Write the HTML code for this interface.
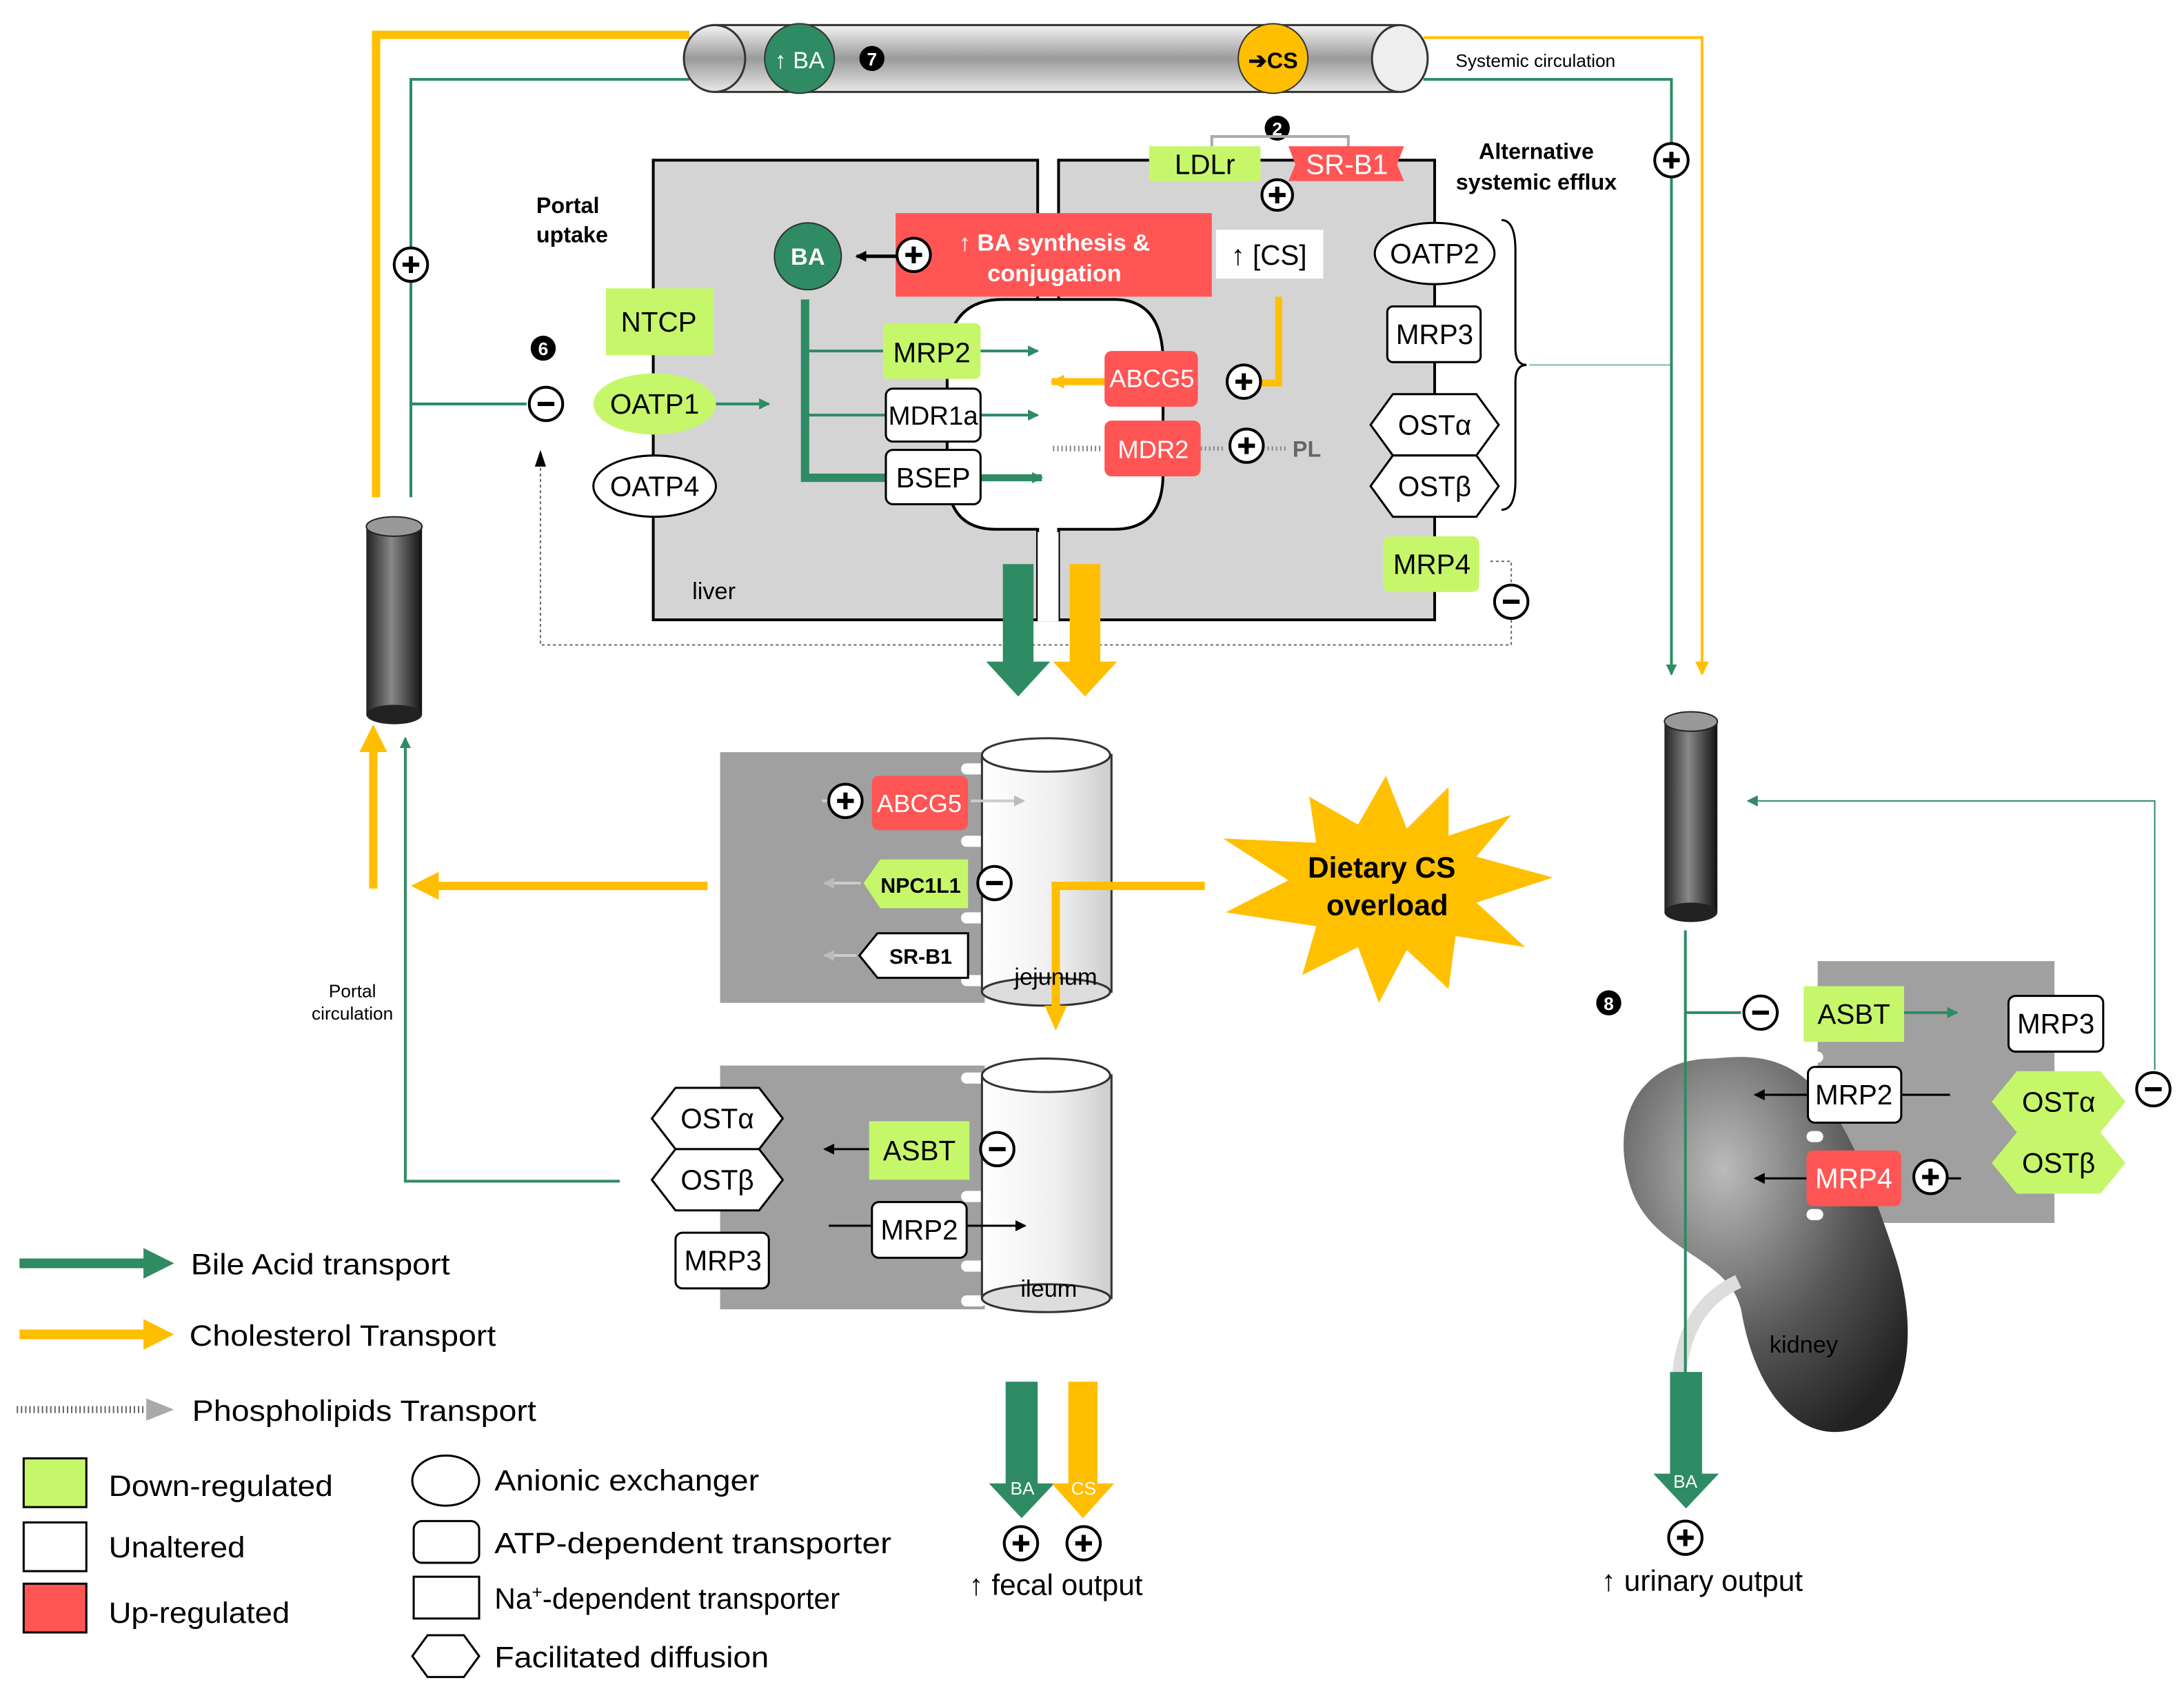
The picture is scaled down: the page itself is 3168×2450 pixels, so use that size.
<!DOCTYPE html>
<html><head><meta charset="utf-8"><style>
html,body{margin:0;padding:0;background:#fff}
svg{display:block}
text{font-family:"Liberation Sans",sans-serif}
</style></head><body>
<svg width="3168" height="2450" viewBox="0 0 1568 1212.6" preserveAspectRatio="none" xmlns="http://www.w3.org/2000/svg">
<defs>
<linearGradient id="tube" x1="0" y1="0" x2="0" y2="1"><stop offset="0" stop-color="#f4f4f4"/><stop offset="0.5" stop-color="#9a9a9a"/><stop offset="1" stop-color="#e8e8e8"/></linearGradient>
<linearGradient id="dark" x1="0" y1="0" x2="1" y2="0"><stop offset="0" stop-color="#222"/><stop offset="0.45" stop-color="#888"/><stop offset="1" stop-color="#111"/></linearGradient>
<linearGradient id="light" x1="0" y1="0" x2="1" y2="0"><stop offset="0" stop-color="#fff"/><stop offset="0.6" stop-color="#eee"/><stop offset="1" stop-color="#ccc"/></linearGradient>
<radialGradient id="kid" cx="0.35" cy="0.3" r="0.8"><stop offset="0" stop-color="#bbb"/><stop offset="0.6" stop-color="#555"/><stop offset="1" stop-color="#222"/></radialGradient>
<marker id="ag" markerWidth="8" markerHeight="8" refX="7" refY="4" orient="auto" markerUnits="userSpaceOnUse"><path d="M0,0 L8,4 L0,8z" fill="#2e8b63"/></marker>
<marker id="ay" markerWidth="10" markerHeight="10" refX="9" refY="5" orient="auto" markerUnits="userSpaceOnUse"><path d="M0,0 L10,5 L0,10z" fill="#ffbf00"/></marker>
<marker id="ab" markerWidth="8" markerHeight="8" refX="7" refY="4" orient="auto" markerUnits="userSpaceOnUse"><path d="M0,0 L8,4 L0,8z" fill="#000"/></marker>
<marker id="agr" markerWidth="8" markerHeight="8" refX="7" refY="4" orient="auto" markerUnits="userSpaceOnUse"><path d="M0,0 L8,4 L0,8z" fill="#bbb"/></marker>
<marker id="aY" markerWidth="20" markerHeight="20" refX="10" refY="10" orient="auto" markerUnits="userSpaceOnUse"><path d="M0,0 L20,10 L0,20z" fill="#ffbf00"/></marker>
</defs>

<polyline points="270,357 270,25 495,25" fill="none" stroke="#ffbf00" stroke-width="6"/>
<polyline points="295,357 295,57 495,57" fill="none" stroke="#2e8b63" stroke-width="2"/>
<polyline points="1022,27 1222,27 1222,484" fill="none" stroke="#ffbf00" stroke-width="2" marker-end="url(#ay)"/>
<polyline points="1022,57 1200,57 1200,484" fill="none" stroke="#2e8b63" stroke-width="2" marker-end="url(#ag)"/>
<rect x="513" y="18" width="490" height="48" fill="url(#tube)" stroke="#333" stroke-width="1.5"/>
<ellipse cx="513" cy="42" rx="22" ry="24" fill="url(#tube)" stroke="#333" stroke-width="1.5"/>
<ellipse cx="1005" cy="42" rx="20" ry="24" fill="#eee" stroke="#333" stroke-width="1.5"/>
<circle cx="574" cy="42" r="25" fill="#2e8b63" stroke="#333"/><text x="574" y="49" fill="#fff" font-size="17" text-anchor="middle">↑ BA</text>
<circle cx="914" cy="42" r="25" fill="#ffbf00" stroke="#333"/><text x="914" y="49" fill="#000" font-size="16" font-weight="bold" text-anchor="middle">➔CS</text>
<g font-size="13" font-weight="bold" text-anchor="middle" fill="#fff">
<circle cx="626" cy="42" r="9" fill="#000"/><text x="626" y="47">7</text>
<circle cx="917" cy="92" r="9" fill="#000"/><text x="917" y="97">2</text>
<circle cx="688" cy="140" r="9" fill="#000"/><text x="688" y="145">3</text>
<circle cx="751" cy="235" r="9" fill="#000"/><text x="751" y="240">4</text>
<circle cx="390" cy="250" r="9" fill="#000"/><text x="390" y="255">6</text>
<circle cx="758" cy="613" r="9" fill="#000"/><text x="758" y="618">1</text>
<circle cx="752" cy="855" r="9" fill="#000"/><text x="752" y="860">5</text>
<circle cx="1155" cy="720" r="9" fill="#000"/><text x="1155" y="725">8</text>
</g>
<text x="1045" y="48" font-size="13">Systemic circulation</text>
<text x="1103" y="114" font-size="16" font-weight="bold" text-anchor="middle">Alternative</text>
<text x="1103" y="136" font-size="16" font-weight="bold" text-anchor="middle">systemic  efflux</text>
<text x="385" y="153" font-size="16" font-weight="bold">Portal</text>
<text x="385" y="174" font-size="16" font-weight="bold">uptake</text>

<rect x="469" y="115" width="276" height="330" fill="#d4d4d4" stroke="#000" stroke-width="2"/>
<rect x="760" y="115" width="270" height="330" fill="#d4d4d4" stroke="#000" stroke-width="2"/>
<path d="M720,215 H800 Q835,215 835,260 V340 Q835,380 800,380 H760 V445 H745 V380 H715 Q680,380 680,340 V260 Q680,215 720,215z" fill="#fff" stroke="#000" stroke-width="2"/>
<rect x="745" y="382" width="15" height="64" fill="#fff"/>
<text x="497" y="430" font-size="17">liver</text>
<polyline points="870,120 870,98 968,98 968,120" fill="none" stroke="#aaa" stroke-width="2"/>
<rect x="825" y="105" width="80" height="25" fill="#c6f76b"/><text x="865" y="125" font-size="20" text-anchor="middle">LDLr</text>
<path d="M925,105 H1008 L1003,118 L1008,130 H925 L930,118z" fill="#f55"/><text x="967" y="125" font-size="20" fill="#fff" text-anchor="middle">SR-B1</text>
<rect x="643" y="153" width="227" height="60" fill="#f55"/>
<text x="757" y="180" font-size="17" font-weight="bold" fill="#fff" text-anchor="middle">↑ BA synthesis &amp;</text>
<text x="757" y="202" font-size="17" font-weight="bold" fill="#fff" text-anchor="middle">conjugation</text>
<rect x="873" y="165" width="77" height="35" fill="#fff"/><text x="911" y="190" font-size="20" text-anchor="middle">↑ [CS]</text>
<circle cx="580" cy="184" r="24" fill="#2e8b63" stroke="#333"/><text x="580" y="190" font-size="17" font-weight="bold" fill="#fff" text-anchor="middle">BA</text>
<line x1="645" y1="184" x2="615" y2="184" stroke="#000" stroke-width="2.5" marker-end="url(#ab)"/>
<polyline points="578,215 578,343 636,343" fill="none" stroke="#2e8b63" stroke-width="6"/>
<line x1="578" y1="252" x2="636" y2="252" stroke="#2e8b63" stroke-width="2"/>
<line x1="578" y1="298" x2="636" y2="298" stroke="#2e8b63" stroke-width="2"/>
<line x1="704" y1="252" x2="745" y2="252" stroke="#2e8b63" stroke-width="2" marker-end="url(#ag)"/>
<line x1="704" y1="298" x2="745" y2="298" stroke="#2e8b63" stroke-width="2" marker-end="url(#ag)"/>
<line x1="704" y1="343" x2="748" y2="343" stroke="#2e8b63" stroke-width="5" marker-end="url(#ag)"/>
<line x1="295" y1="290" x2="378" y2="290" stroke="#2e8b63" stroke-width="2"/>
<line x1="514" y1="290" x2="552" y2="290" stroke="#2e8b63" stroke-width="2" marker-end="url(#ag)"/>
<rect x="634" y="232" width="70" height="40" rx="4" fill="#c6f76b"/><text x="669" y="260" font-size="20" text-anchor="middle">MRP2</text>
<rect x="636" y="279" width="68" height="38" rx="5" fill="#fff" stroke="#000" stroke-width="1.5"/><text x="670" y="305" font-size="19" text-anchor="middle">MDR1a</text>
<rect x="636" y="323" width="68" height="39" rx="5" fill="#fff" stroke="#000" stroke-width="1.5"/><text x="670" y="350" font-size="20" text-anchor="middle">BSEP</text>
<polyline points="918,213 918,275 880,275" fill="none" stroke="#ffbf00" stroke-width="5"/>
<line x1="795" y1="274" x2="755" y2="274" stroke="#ffbf00" stroke-width="5" marker-end="url(#ay)"/>
<line x1="790" y1="322" x2="755" y2="322" stroke="#888" stroke-width="4" stroke-dasharray="1,2"/>
<line x1="862" y1="322" x2="880" y2="322" stroke="#888" stroke-width="3" stroke-dasharray="1,2"/>
<line x1="910" y1="322" x2="925" y2="322" stroke="#888" stroke-width="3" stroke-dasharray="1,2"/>
<rect x="793" y="252" width="67" height="40" rx="5" fill="#f55"/><text x="827" y="278" font-size="18" fill="#fff" text-anchor="middle">ABCG5</text>
<rect x="793" y="302" width="69" height="40" rx="5" fill="#f55"/><text x="828" y="329" font-size="18" fill="#fff" text-anchor="middle">MDR2</text>
<text x="928" y="328" font-size="16" fill="#666" font-weight="bold">PL</text>
<rect x="435" y="207" width="77" height="48" fill="#c6f76b"/><text x="473" y="238" font-size="20" text-anchor="middle">NTCP</text>
<ellipse cx="470" cy="290" rx="44" ry="22" fill="#c6f76b"/><text x="470" y="297" font-size="20" text-anchor="middle">OATP1</text>
<ellipse cx="470" cy="349" rx="44" ry="22" fill="#fff" stroke="#000" stroke-width="1.5"/><text x="470" y="356" font-size="20" text-anchor="middle">OATP4</text>
<ellipse cx="1030" cy="182" rx="43" ry="22" fill="#fff" stroke="#000" stroke-width="1.5"/><text x="1030" y="189" font-size="20" text-anchor="middle">OATP2</text>
<rect x="996" y="220" width="67" height="40" rx="4" fill="#fff" stroke="#000" stroke-width="1.5"/><text x="1030" y="247" font-size="20" text-anchor="middle">MRP3</text>
<path d="M1000,283 H1060 L1076,305 L1060,327 H1000 L984,305z" fill="#fff" stroke="#000" stroke-width="1.5"/><text x="1030" y="312" font-size="20" text-anchor="middle">OSTα</text>
<path d="M1000,327 H1060 L1076,349 L1060,371 H1000 L984,349z" fill="#fff" stroke="#000" stroke-width="1.5"/><text x="1030" y="356" font-size="20" text-anchor="middle">OSTβ</text>
<rect x="993" y="385" width="69" height="40" rx="5" fill="#c6f76b"/><text x="1028" y="412" font-size="20" text-anchor="middle">MRP4</text>
<path d="M1078,158 Q1088,158 1088,180 V250 Q1088,262 1096,262 Q1088,262 1088,274 V345 Q1088,366 1078,366" fill="none" stroke="#000" stroke-width="1.5"/>
<line x1="1098" y1="262" x2="1200" y2="262" stroke="#2e8b63" stroke-width="1" opacity="0.6"/>
<polyline points="1070,403 1085,403 1085,420" fill="none" stroke="#666" stroke-width="1" stroke-dasharray="2,2"/>
<polyline points="1085,445 1085,463 388,463 388,325" fill="none" stroke="#666" stroke-width="1" stroke-dasharray="2,2"/>
<path d="M384,335 L388,323 L392,335z" fill="#000"/>
<path d="M720,405 H742 V475 H754 L731,500 L708,475 H720z" fill="#2e8b63"/>
<path d="M768,405 H790 V475 H802 L779,500 L756,475 H768z" fill="#ffbf00"/>

<rect x="263" y="378" width="40" height="135" fill="url(#dark)"/>
<ellipse cx="283" cy="513" rx="20" ry="7" fill="#222"/>
<ellipse cx="283" cy="378" rx="20" ry="7" fill="#999" stroke="#222"/>
<line x1="268" y1="638" x2="268" y2="530" stroke="#ffbf00" stroke-width="6" marker-end="url(#aY)"/>
<polyline points="445,848 291,848 291,530" fill="none" stroke="#2e8b63" stroke-width="2" marker-end="url(#ag)"/>
<line x1="508" y1="636" x2="305" y2="636" stroke="#ffbf00" stroke-width="6" marker-end="url(#aY)"/>
<text x="253" y="716" font-size="13" text-anchor="middle">Portal</text>
<text x="253" y="732" font-size="13" text-anchor="middle">circulation</text>

<rect x="517" y="540" width="190" height="180" fill="#a0a0a0"/>
<g fill="#fff"><rect x="690" y="548" width="18" height="8" rx="4"/><rect x="690" y="600" width="18" height="8" rx="4"/><rect x="690" y="655" width="18" height="8" rx="4"/><rect x="690" y="700" width="18" height="8" rx="4"/></g>
<rect x="705" y="542" width="93" height="170" fill="url(#light)" stroke="#333" stroke-width="1.5"/>
<ellipse cx="751" cy="542" rx="46" ry="12" fill="#fff" stroke="#333" stroke-width="1.5"/>
<ellipse cx="751" cy="712" rx="46" ry="10" fill="#ddd" stroke="#333" stroke-width="1.5"/>
<line x1="590" y1="575" x2="596" y2="575" stroke="#ccc" stroke-width="2"/>
<line x1="697" y1="575" x2="735" y2="575" stroke="#ccc" stroke-width="2" marker-end="url(#agr)"/>
<line x1="618" y1="634" x2="592" y2="634" stroke="#ccc" stroke-width="2" marker-end="url(#agr)"/>
<line x1="615" y1="686" x2="592" y2="686" stroke="#ccc" stroke-width="2" marker-end="url(#agr)"/>
<rect x="626" y="557" width="69" height="39" rx="5" fill="#f55"/><text x="660" y="583" font-size="18" fill="#fff" text-anchor="middle">ABCG5</text>
<path d="M632,617 H695 V652 H632 L620,634z" fill="#c6f76b"/><text x="661" y="641" font-size="15" font-weight="bold" text-anchor="middle">NPC1L1</text>
<path d="M630,670 H695 V702 H630 L617,686z" fill="#fff" stroke="#000" stroke-width="1.5"/><text x="661" y="692" font-size="15" font-weight="bold" text-anchor="middle">SR-B1</text>
<polyline points="865,636 758,636 758,728" fill="none" stroke="#ffbf00" stroke-width="6"/>
<path d="M750,722 L766,722 L758,740z" fill="#ffbf00"/>
<text x="758" y="707" font-size="17" text-anchor="middle">jejunum</text>
<path d="M995,637 m0,-80 L1010,595 L1040,565 L1040,600 L1085,585 L1060,615 L1115,630 L1060,648 L1095,680 L1045,672 L1040,710 L1010,682 L990,720 L975,680 L935,700 L945,665 L880,655 L925,632 L878,602 L945,605 L940,572 L975,592z" fill="#ffc000"/>
<text x="992" y="630" font-size="21" font-weight="bold" text-anchor="middle">Dietary CS</text>
<text x="996" y="657" font-size="21" font-weight="bold" text-anchor="middle">overload</text>

<rect x="517" y="765" width="190" height="175" fill="#a0a0a0"/>
<g fill="#fff"><rect x="690" y="770" width="18" height="8" rx="4"/><rect x="690" y="855" width="18" height="8" rx="4"/><rect x="690" y="905" width="18" height="8" rx="4"/><rect x="690" y="930" width="18" height="8" rx="4"/></g>
<rect x="705" y="772" width="93" height="160" fill="url(#light)" stroke="#333" stroke-width="1.5"/>
<ellipse cx="751" cy="772" rx="46" ry="12" fill="#fff" stroke="#333" stroke-width="1.5"/>
<ellipse cx="751" cy="932" rx="46" ry="10" fill="#ddd" stroke="#333" stroke-width="1.5"/>
<text x="753" y="931" font-size="17" text-anchor="middle">ileum</text>
<path d="M485,781 H545 L562,803 L545,825 H485 L468,803z" fill="#fff" stroke="#000" stroke-width="1.5"/><text x="515" y="810" font-size="20" text-anchor="middle">OSTα</text>
<path d="M485,825 H545 L562,847 L545,869 H485 L468,847z" fill="#fff" stroke="#000" stroke-width="1.5"/><text x="515" y="854" font-size="20" text-anchor="middle">OSTβ</text>
<rect x="485" y="885" width="67" height="40" rx="5" fill="#fff" stroke="#000" stroke-width="1.5"/><text x="519" y="912" font-size="20" text-anchor="middle">MRP3</text>
<line x1="624" y1="825" x2="592" y2="825" stroke="#000" stroke-width="1.5" marker-end="url(#ab)"/>
<rect x="624" y="805" width="72" height="42" fill="#c6f76b"/><text x="660" y="833" font-size="20" text-anchor="middle">ASBT</text>
<line x1="595" y1="880" x2="736" y2="880" stroke="#000" stroke-width="1.5" marker-end="url(#ab)"/>
<rect x="626" y="863" width="68" height="40" rx="5" fill="#fff" stroke="#000" stroke-width="1.5"/><text x="660" y="890" font-size="20" text-anchor="middle">MRP2</text>

<path d="M722,992 H745 V1065 H757 L733.5,1090 L710,1065 H722z" fill="#2e8b63"/>
<path d="M767,992 H788 V1065 H800 L777.5,1090 L755,1065 H767z" fill="#ffbf00"/>
<text x="734" y="1073" font-size="13" fill="#fff" text-anchor="middle">BA</text>
<text x="778" y="1073" font-size="13" fill="#fff" text-anchor="middle">CS</text>
<text x="758" y="1145" font-size="21" text-anchor="middle">↑ fecal output</text>

<rect x="1195" y="518" width="38" height="137" fill="url(#dark)"/>
<ellipse cx="1214" cy="655" rx="19" ry="7" fill="#222"/>
<ellipse cx="1214" cy="518" rx="19" ry="7" fill="#999" stroke="#222"/>
<rect x="1305" y="690" width="170" height="188" fill="#a0a0a0"/>
<path d="M1230,760 C1180,760 1155,800 1170,850 C1185,900 1240,900 1250,940 C1260,1000 1290,1030 1320,1028 C1370,1025 1380,960 1360,900 C1340,840 1320,790 1290,770 C1270,757 1250,758 1230,760z" fill="url(#kid)"/>
<path d="M1248,920 Q1205,940 1205,1000" fill="none" stroke="#ddd" stroke-width="10"/>
<text x="1295" y="971" font-size="17" text-anchor="middle">kidney</text>
<g fill="#fff"><rect x="1297" y="755" width="12" height="8" rx="4"/><rect x="1297" y="812" width="12" height="8" rx="4"/><rect x="1297" y="868" width="12" height="8" rx="4"/></g>
<line x1="1210" y1="668" x2="1210" y2="990" stroke="#2e8b63" stroke-width="2"/>
<line x1="1210" y1="727" x2="1250" y2="727" stroke="#2e8b63" stroke-width="2"/>
<line x1="1367" y1="727" x2="1405" y2="727" stroke="#2e8b63" stroke-width="2" marker-end="url(#ag)"/>
<polyline points="1547,768 1547,575 1255,575" fill="none" stroke="#2e8b63" stroke-width="1" marker-end="url(#ag)"/>
<rect x="1295" y="708" width="72" height="40" fill="#c6f76b"/><text x="1331" y="735" font-size="20" text-anchor="middle">ASBT</text>
<rect x="1442" y="715" width="68" height="40" rx="5" fill="#fff" stroke="#000" stroke-width="1.5"/><text x="1476" y="742" font-size="20" text-anchor="middle">MRP3</text>
<line x1="1400" y1="786" x2="1365" y2="786" stroke="#000" stroke-width="1.5"/>
<line x1="1298" y1="786" x2="1260" y2="786" stroke="#000" stroke-width="1.5" marker-end="url(#ab)"/>
<rect x="1298" y="766" width="67" height="40" rx="5" fill="#fff" stroke="#000" stroke-width="1.5"/><text x="1331" y="793" font-size="20" text-anchor="middle">MRP2</text>
<line x1="1297" y1="846" x2="1260" y2="846" stroke="#000" stroke-width="1.5" marker-end="url(#ab)"/>
<line x1="1398" y1="846" x2="1408" y2="846" stroke="#000" stroke-width="1.5"/>
<rect x="1297" y="826" width="68" height="40" rx="5" fill="#f55"/><text x="1331" y="853" font-size="20" fill="#fff" text-anchor="middle">MRP4</text>
<path d="M1448,769 H1508 L1526,791 L1508,813 H1448 L1430,791z" fill="#c6f76b"/><text x="1478" y="798" font-size="20" text-anchor="middle">OSTα</text>
<path d="M1448,813 H1508 L1526,835 L1508,857 H1448 L1430,835z" fill="#c6f76b"/><text x="1478" y="842" font-size="20" text-anchor="middle">OSTβ</text>
<path d="M1199,985 H1222 V1058 H1234 L1210.5,1083 L1187,1058 H1199z" fill="#2e8b63"/>
<text x="1210" y="1068" font-size="13" fill="#fff" text-anchor="middle">BA</text>
<text x="1222" y="1142" font-size="21" text-anchor="middle">↑ urinary output</text>

<g fill="#fff" stroke="#000" stroke-width="2">
<circle cx="1200" cy="115" r="12"/><circle cx="295" cy="190" r="12"/><circle cx="917" cy="140" r="11"/>
<circle cx="656" cy="183" r="12"/><circle cx="893" cy="274" r="12"/><circle cx="895" cy="320" r="12"/>
<circle cx="607" cy="575" r="12"/><circle cx="733" cy="1108" r="12"/><circle cx="778" cy="1108" r="12"/>
<circle cx="1210" cy="1104" r="12"/><circle cx="1386" cy="845" r="12"/>
<circle cx="392" cy="290" r="12"/><circle cx="1085" cy="432" r="12"/><circle cx="714" cy="634" r="12"/>
<circle cx="716" cy="825" r="12"/><circle cx="1264" cy="727" r="12"/><circle cx="1546" cy="782" r="12"/>
</g>
<g stroke="#000" stroke-width="3">
<path d="M1194,115h12M1200,109v12M289,190h12M295,184v12M911,140h12M917,134v12M650,183h12M656,177v12M887,274h12M893,268v12M889,320h12M895,314v12M601,575h12M607,569v12M727,1108h12M733,1102v12M772,1108h12M778,1102v12M1204,1104h12M1210,1098v12M1380,845h12M1386,839v12"/>
<path d="M386,290h12M1079,432h12M708,634h12M710,825h12M1258,727h12M1540,782h12"/>
</g>

<line x1="14" y1="907" x2="105" y2="907" stroke="#2e8b63" stroke-width="7"/><path d="M103,896 L125,907 L103,918z" fill="#2e8b63"/>
<text x="137" y="915" font-size="21" textLength="186" lengthAdjust="spacingAndGlyphs">Bile Acid transport</text>
<line x1="14" y1="958" x2="105" y2="958" stroke="#ffbf00" stroke-width="7"/><path d="M103,947 L125,958 L103,969z" fill="#ffbf00"/>
<text x="136" y="966" font-size="21" textLength="220" lengthAdjust="spacingAndGlyphs">Cholesterol Transport</text>
<line x1="12" y1="1012" x2="105" y2="1012" stroke="#666" stroke-width="5" stroke-dasharray="1,2"/><path d="M105,1004 L125,1012 L105,1020z" fill="#aaa"/>
<text x="138" y="1020" font-size="21" textLength="247" lengthAdjust="spacingAndGlyphs">Phospholipids Transport</text>
<rect x="17" y="1047" width="45" height="35" fill="#c6f76b" stroke="#000" stroke-width="1.5"/><text x="78" y="1074" font-size="21" textLength="161" lengthAdjust="spacingAndGlyphs">Down-regulated</text>
<rect x="17" y="1093" width="45" height="35" fill="#fff" stroke="#000" stroke-width="1.5"/><text x="78" y="1118" font-size="21" textLength="98" lengthAdjust="spacingAndGlyphs">Unaltered</text>
<rect x="17" y="1137" width="45" height="35" fill="#f55" stroke="#000" stroke-width="1.5"/><text x="78" y="1165" font-size="21" textLength="130" lengthAdjust="spacingAndGlyphs">Up-regulated</text>
<ellipse cx="320" cy="1063" rx="24" ry="18" fill="#fff" stroke="#000" stroke-width="1.5"/><text x="355" y="1070" font-size="21" textLength="190" lengthAdjust="spacingAndGlyphs">Anionic exchanger</text>
<rect x="297" y="1092" width="47" height="30" rx="6" fill="#fff" stroke="#000" stroke-width="1.5"/><text x="355" y="1115" font-size="21" textLength="285" lengthAdjust="spacingAndGlyphs">ATP-dependent  transporter</text>
<rect x="297" y="1132" width="47" height="30" fill="#fff" stroke="#000" stroke-width="1.5"/><text x="355" y="1155" font-size="21">Na<tspan baseline-shift="super" font-size="13">+</tspan>-dependent  transporter</text>
<path d="M307,1174 H333 L344,1189 L333,1204 H307 L296,1189z" fill="#fff" stroke="#000" stroke-width="1.5"/><text x="355" y="1197" font-size="21" textLength="197" lengthAdjust="spacingAndGlyphs">Facilitated diffusion</text>
</svg>
</body></html>
